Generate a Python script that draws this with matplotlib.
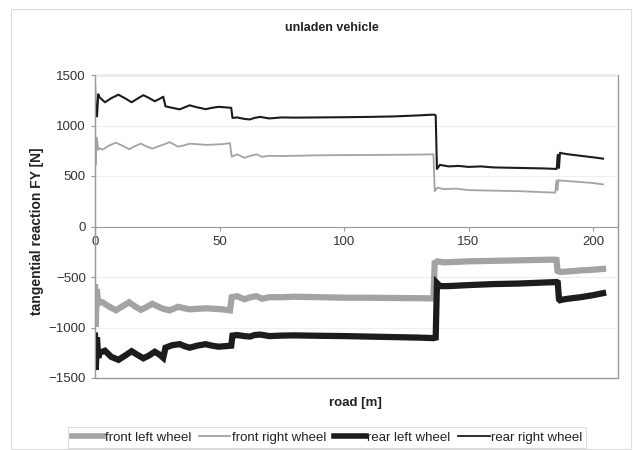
import matplotlib
matplotlib.use("Agg")
import matplotlib.pyplot as plt
from matplotlib.lines import Line2D
from matplotlib.patches import Rectangle

plt.rcParams["font.family"] = ["Liberation Sans", "DejaVu Sans"]

# ---- data ----
# front wheels share one road grid, rear wheels another
road_front = [0, 0.3, 0.7, 1.3, 2, 3, 5.5, 8.4, 11, 13.7, 16, 18.4, 20.5, 23, 25,
              27.4, 30, 33.4, 36, 38, 41, 44.8, 48, 51, 54.2, 54.9, 57, 60, 62.5,
              64.9, 67, 70, 75, 80, 90, 100, 110, 120, 130, 135.9, 136.4, 137.5,
              140, 145, 150, 160, 170, 180, 184.8, 185.3, 185.7, 186.1, 187, 190,
              195, 200, 204]
front_right = [1000, 615, 880, 760, 775, 760, 800, 830, 800, 765, 795, 821, 795, 771, 790,
               810, 835, 790, 805, 820, 815, 808, 812, 815, 825, 690, 715, 680, 700,
               715, 690, 700, 698, 700, 705, 707, 708, 710, 712, 715, 350, 385,
               370, 375, 360, 355, 350, 340, 335, 455, 360, 460, 455, 450,
               440, 430, 417]
front_left = [-600, -990, -620, -760, -745, -750, -790, -830, -790, -750, -790, -825, -800, -765, -790,
              -815, -830, -795, -810, -820, -815, -810, -815, -820, -830, -700, -690, -720, -700,
              -690, -715, -700, -700, -695, -700, -705, -705, -708, -710, -712, -360, -345,
              -355, -350, -345, -340, -335, -330, -328, -330, -440, -445, -450, -445,
              -435, -428, -420]

road_rear = [0, 0.3, 0.8, 1.3, 1.8, 4, 6.5, 9.4, 12, 14.7, 17, 19.4, 21.5, 24, 26,
             27.4, 28.3, 31, 34, 36, 38, 41, 44.4, 47, 49.6, 54.7, 55.2, 57, 60,
             62.2, 64, 66.3, 70, 75, 80, 90, 100, 110, 120, 130, 136, 136.8,
             137.3, 138.5, 142, 146, 150, 155, 160, 170, 180, 185.4, 185.8,
             186.3, 186.7, 187.5, 190, 195, 200, 204]
rear_right = [1400, 1100, 1090, 1310, 1280, 1230, 1270, 1305, 1270, 1230, 1265, 1300, 1275, 1240, 1265,
              1285, 1190, 1175, 1160, 1180, 1200, 1180, 1162, 1175, 1185, 1175, 1075, 1080, 1065,
              1060, 1075, 1085, 1070, 1080, 1078, 1080, 1082, 1085, 1090, 1100, 1108, 1100,
              570, 610, 595, 600, 590, 595, 585, 580, 575, 570, 710,
              580, 730, 725, 715, 700, 685, 672]
rear_left = [-1080, -1420, -1100, -1300, -1250, -1230, -1290, -1320, -1280, -1235, -1270, -1305, -1280, -1240, -1270,
             -1300, -1200, -1175, -1165, -1185, -1200, -1180, -1165, -1180, -1190, -1180, -1080, -1075, -1085,
             -1090, -1075, -1070, -1085, -1080, -1078, -1082, -1085, -1090, -1095, -1100, -1105, -1100,
             -560, -590, -590, -585, -580, -575, -570, -565, -555, -550, -555,
             -720, -730, -725, -715, -700, -680, -660]

x_ticks = [0, 50, 100, 150, 200]
y_ticks = [-1500, -1000, -500, 0, 500, 1000, 1500]
labels = ["front left wheel", "front right wheel", "rear left wheel", "rear right wheel"]

GRAY = "#a3a3a3"
BLACK = "#1c1c1c"
FRAME = "#9a9a9a"
TXT = "#333333"

fig = plt.figure(figsize=(6.33, 4.5), dpi=100)
ax = fig.add_axes([95 / 633, 1 - 378 / 450, 523 / 633, 303 / 450])

ax.plot(road_front, front_left, color=GRAY, lw=4.5, solid_joinstyle="miter")
ax.plot(road_front, front_right, color=GRAY, lw=1.3)
ax.plot(road_rear, rear_left, color=BLACK, lw=4.5, solid_joinstyle="miter")
ax.plot(road_rear, rear_right, color=BLACK, lw=1.5)

ax.set_xlim(0, 210)
ax.set_ylim(-1500, 1500)
ax.set_xticks(x_ticks)
ax.set_yticks(y_ticks)
ax.grid(axis="y", color="#efefef", lw=0.8)
ax.set_axisbelow(True)

# x axis crosses at zero, plot area keeps a full grey border
for s in ("top", "right"):
    ax.spines[s].set_visible(False)
ax.spines["bottom"].set_position(("data", 0))
ax.spines["bottom"].set_color(FRAME)
ax.spines["left"].set_color(FRAME)
ax.add_patch(Rectangle((0, 0), 1, 1, transform=ax.transAxes, fill=False,
                       edgecolor=FRAME, lw=1.0, clip_on=False, zorder=0.5))
ax.tick_params(axis="both", direction="out", length=3, color=FRAME,
               labelsize=9.5, labelcolor=TXT)
ax.tick_params(axis="x", pad=4)

fig.text(332 / 633, 1 - 28 / 450, "unladen vehicle", ha="center", va="center",
         fontsize=9, fontweight="bold", color="#222222")
fig.text(37 / 633, 1 - 231 / 450, "tangential reaction FY [N]", ha="center", va="center",
         rotation=90, fontsize=10, fontweight="bold", color="#222222")
fig.text(355 / 633, 1 - 403 / 450, "road [m]", ha="center", va="center",
         fontsize=9.5, fontweight="bold", color="#222222")

handles = [Line2D([], [], color=GRAY, lw=4),
           Line2D([], [], color=GRAY, lw=1.3),
           Line2D([], [], color=BLACK, lw=4),
           Line2D([], [], color=BLACK, lw=1.3)]
leg = fig.legend(handles, labels, loc="center", ncol=4,
                 bbox_to_anchor=(327 / 633, 1 - 437.5 / 450), fontsize=9.5,
                 frameon=True, fancybox=False, handlelength=2.4, handletextpad=0.1,
                 columnspacing=0.6, borderpad=0.3)
leg.get_frame().set_edgecolor("#d6d6d6")
leg.get_frame().set_linewidth(0.8)
for t in leg.get_texts():
    t.set_color("#222222")

# light chart-area border
fig.patches.append(Rectangle((11 / 633, 1 / 450), 620 / 633, 440 / 450,
                             transform=fig.transFigure, fill=False,
                             edgecolor="#dddddd", lw=0.8))

fig.savefig("out.png", dpi=100)
